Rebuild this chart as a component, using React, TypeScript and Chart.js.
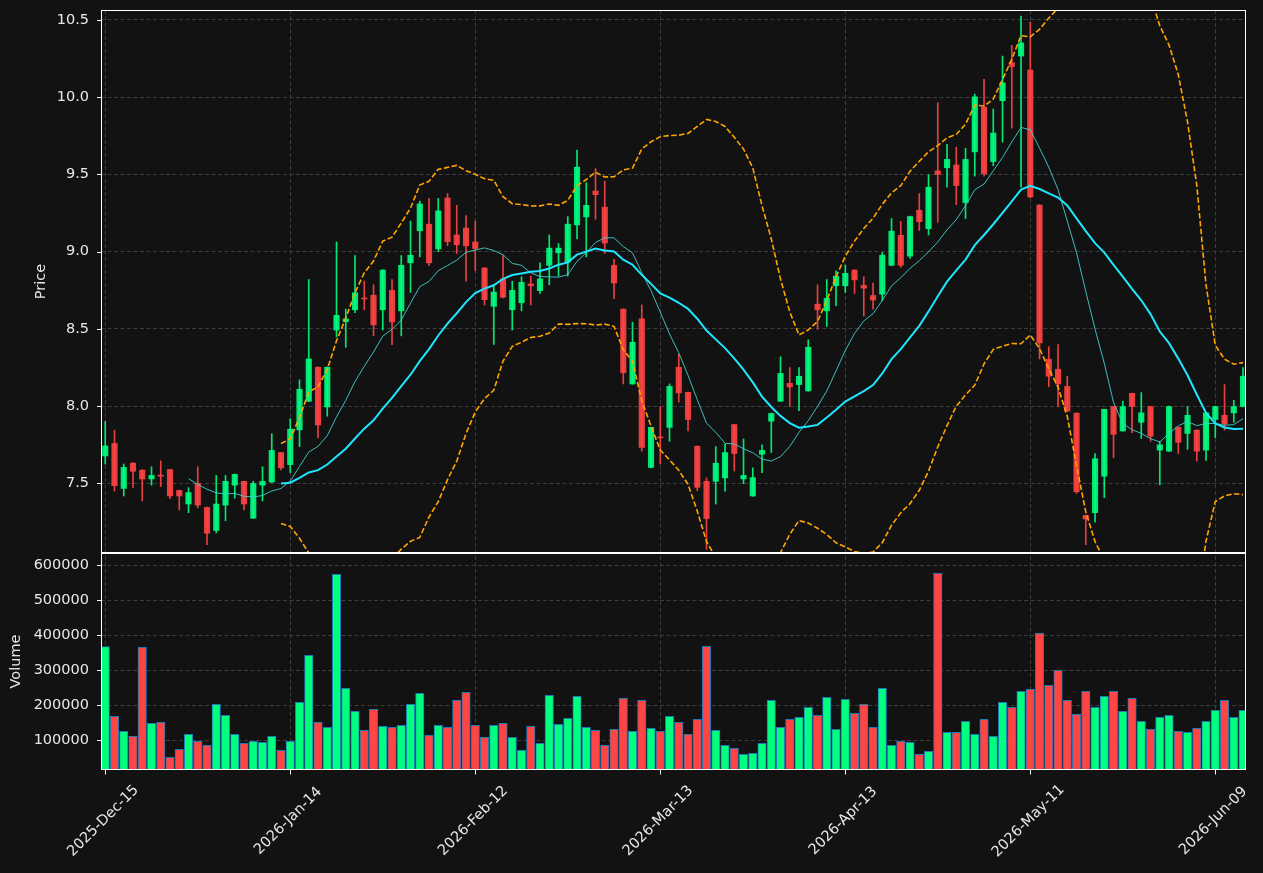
import React, { useEffect, useRef } from 'react';
import { Chart, registerables } from 'chart.js';

Chart.register(...registerables);

// ---------------- data ----------------
const tickIndices = [0, 20, 40, 60, 80, 100, 120];
const tickLabels = ['2025-Dec-15', '2026-Jan-14', '2026-Feb-12', '2026-Mar-13', '2026-Apr-13', '2026-May-11', '2026-Jun-09'];

const openP = [
  7.678, 7.759, 7.468, 7.631, 7.586, 7.529, 7.554, 7.590, 7.455, 7.367,
  7.500, 7.345, 7.196, 7.360, 7.489, 7.514, 7.275, 7.489, 7.509, 7.700,
  7.622, 7.847, 8.032, 8.252, 7.995, 8.493, 8.547, 8.624, 8.698, 8.718,
  8.624, 8.750, 8.617, 8.928, 9.135, 9.178, 9.018, 9.347, 9.108, 9.153,
  9.063, 8.894, 8.646, 8.824, 8.624, 8.669, 8.791, 8.748, 8.912, 8.993,
  8.932, 9.173, 9.225, 9.392, 9.288, 8.912, 8.628, 8.144, 8.565, 7.604,
  7.800, 7.863, 8.252, 8.090, 7.741, 7.514, 7.514, 7.536, 7.881, 7.529,
  7.419, 7.689, 7.903, 8.032, 8.148, 8.140, 8.099, 8.660, 8.617, 8.779,
  8.779, 8.881, 8.782, 8.716, 8.725, 8.912, 9.106, 8.971, 9.268, 9.149,
  9.523, 9.543, 9.561, 9.318, 9.646, 9.935, 9.583, 9.977, 10.223, 10.266,
  10.176, 9.302, 8.304, 8.239, 8.128, 7.955, 7.293, 7.311, 7.547, 7.998,
  7.840, 8.083, 7.896, 7.998, 7.716, 7.709, 7.863, 7.824, 7.845, 7.716,
  7.914, 7.941, 7.957, 7.998,
];
const highP = [
  7.901, 7.845, 7.626, 7.635, 7.590, 7.608, 7.646, 7.592, 7.457, 7.473,
  7.608, 7.347, 7.552, 7.552, 7.561, 7.516, 7.514, 7.608, 7.822, 7.702,
  7.919, 8.171, 8.820, 8.254, 8.254, 9.063, 8.628, 8.975, 8.809, 8.786,
  8.883, 8.820, 8.975, 9.198, 9.327, 9.345, 9.345, 9.376, 9.300, 9.234,
  9.198, 8.898, 8.786, 8.975, 8.809, 8.838, 8.842, 8.928, 9.108, 9.052,
  9.227, 9.658, 9.446, 9.538, 9.457, 8.950, 8.630, 8.543, 8.655, 7.865,
  7.998, 8.144, 8.336, 8.092, 7.743, 7.536, 7.739, 7.755, 7.883, 7.788,
  7.601, 7.750, 7.955, 8.320, 8.250, 8.250, 8.430, 8.786, 8.820, 8.876,
  8.914, 8.883, 8.838, 8.797, 8.995, 9.214, 9.196, 9.230, 9.376, 9.498,
  9.964, 9.694, 9.676, 9.669, 10.020, 10.115, 9.923, 10.266, 10.336, 10.525,
  10.486, 9.304, 8.385, 8.399, 8.194, 7.957, 7.295, 7.694, 7.980, 8.000,
  8.032, 8.085, 8.088, 8.000, 7.773, 8.000, 7.865, 7.998, 7.847, 7.960,
  8.000, 8.140, 8.038, 8.250,
];
const lowP = [
  7.626, 7.450, 7.419, 7.473, 7.387, 7.489, 7.480, 7.401, 7.329, 7.311,
  7.342, 7.104, 7.180, 7.259, 7.405, 7.329, 7.273, 7.387, 7.507, 7.588,
  7.570, 7.739, 8.030, 7.795, 7.935, 8.448, 8.381, 8.606, 8.624, 8.455,
  8.493, 8.399, 8.455, 8.736, 8.966, 8.910, 9.000, 9.038, 8.989, 8.809,
  8.876, 8.655, 8.399, 8.700, 8.493, 8.617, 8.655, 8.730, 8.786, 8.842,
  8.842, 9.083, 8.966, 9.209, 8.989, 8.696, 8.144, 8.142, 7.709, 7.600,
  7.626, 7.773, 8.027, 7.840, 7.453, 7.074, 7.367, 7.450, 7.581, 7.498,
  7.417, 7.570, 7.700, 8.030, 7.998, 7.971, 8.097, 8.498, 8.516, 8.651,
  8.736, 8.730, 8.583, 8.628, 8.682, 8.908, 8.899, 8.957, 9.137, 9.108,
  9.191, 9.417, 9.304, 9.214, 9.489, 9.489, 9.556, 9.709, 9.800, 9.417,
  9.349, 8.306, 8.126, 7.998, 7.968, 7.435, 7.104, 7.250, 7.408, 7.667,
  7.838, 7.829, 7.791, 7.773, 7.491, 7.707, 7.694, 7.721, 7.644, 7.649,
  7.795, 7.845, 7.896, 7.996,
];
const closeP = [
  7.743, 7.486, 7.604, 7.579, 7.529, 7.552, 7.547, 7.419, 7.419, 7.441,
  7.360, 7.178, 7.367, 7.514, 7.559, 7.367, 7.500, 7.514, 7.714, 7.601,
  7.851, 8.110, 8.306, 7.878, 8.252, 8.588, 8.565, 8.734, 8.694, 8.527,
  8.881, 8.545, 8.912, 8.977, 9.309, 8.928, 9.264, 9.065, 9.045, 9.038,
  9.020, 8.689, 8.739, 8.705, 8.750, 8.802, 8.779, 8.824, 9.023, 9.023,
  9.178, 9.547, 9.300, 9.369, 9.056, 8.797, 8.216, 8.414, 7.734, 7.863,
  7.795, 8.128, 8.086, 7.914, 7.475, 7.273, 7.631, 7.700, 7.694, 7.552,
  7.538, 7.714, 7.953, 8.212, 8.124, 8.194, 8.381, 8.624, 8.698, 8.842,
  8.860, 8.818, 8.764, 8.687, 8.977, 9.133, 8.912, 9.227, 9.194, 9.417,
  9.500, 9.597, 9.428, 9.597, 10.002, 9.505, 9.768, 10.092, 10.198, 10.351,
  9.354, 8.410, 8.194, 8.144, 7.968, 7.446, 7.270, 7.660, 7.980, 7.818,
  7.998, 7.998, 7.957, 7.806, 7.750, 7.998, 7.766, 7.941, 7.709, 7.957,
  7.998, 7.885, 7.998, 8.194,
];
const volume = [
  367600, 168600, 125700, 111400, 365700, 148600, 151400, 51400, 74300, 117100,
  97100, 85700, 202900, 171400, 117100, 91400, 97100, 94300, 111400, 71400,
  97100, 208600, 342900, 151400, 137100, 574300, 248600, 182900, 128600, 188600,
  140000, 137100, 142900, 202900, 234300, 114300, 142900, 137100, 214300, 237100,
  142900, 108600, 142900, 148600, 108600, 71400, 140000, 91400, 228600, 145700,
  162900, 225700, 137100, 128600, 85700, 131400, 220000, 125700, 214300, 134300,
  125700, 168600, 151400, 117100, 160000, 368600, 128600, 85700, 77100, 60000,
  62900, 91400, 214300, 137100, 160000, 165700, 194300, 171400, 222900, 131400,
  217100, 177100, 202900, 137100, 248600, 85700, 97100, 94300, 60000, 68600,
  577100, 122900, 122900, 154300, 117100, 160000, 111400, 208600, 194300, 240000,
  245700, 405700, 257100, 300000, 214300, 174300, 240000, 194300, 225700, 240000,
  182900, 220000, 154300, 131400, 165700, 171400, 125700, 122900, 134300, 154300,
  185700, 214300, 165700, 185700,
];
const priceTicks = [7.5, 8.0, 8.5, 9.0, 9.5, 10.0, 10.5];
const volumeTicks = [100000, 200000, 300000, 400000, 500000, 600000];

// ---------------- styling ----------------
const BG = '#121212';
const TEXT = '#e8e8e8';
const GRID = '#3c3c3c';
const FONT = 'DejaVu Sans';
const UP_CANDLE = 'rgba(0,255,127,0.9)';
const DOWN_CANDLE = 'rgba(255,68,68,0.9)';
const UP_VOL = '#00ff7f';
const DOWN_VOL = '#ff4444';

function sma(vals: number[], n: number): (number | null)[] {
  return vals.map((_, i) => {
    if (i < n - 1) return null;
    let s = 0;
    for (let k = i - n + 1; k <= i; k++) s += vals[k];
    return s / n;
  });
}
function rollingStd(vals: number[], n: number): (number | null)[] {
  return vals.map((_, i) => {
    if (i < n - 1) return null;
    let s = 0;
    for (let k = i - n + 1; k <= i; k++) s += vals[k];
    const m = s / n;
    let q = 0;
    for (let k = i - n + 1; k <= i; k++) q += (vals[k] - m) * (vals[k] - m);
    return Math.sqrt(q / (n - 1));
  });
}
function toPoints(arr: (number | null)[]) {
  const out: { x: number; y: number }[] = [];
  arr.forEach((v, i) => {
    if (v !== null) out.push({ x: i, y: v });
  });
  return out;
}

const panelPlugin = {
  id: 'panelPlugin',
  beforeDatasetDraw(chart: any, args: any) {
    const ctx = chart.ctx;
    const ys = chart.scales[args.meta.yAxisID];
    const ca = chart.chartArea;
    ctx.save();
    ctx.beginPath();
    ctx.rect(ca.left, ys.top, ca.right - ca.left, ys.bottom - ys.top);
    ctx.clip();
  },
  afterDatasetDraw(chart: any) {
    chart.ctx.restore();
  },
  afterDraw(chart: any) {
    const ctx = chart.ctx;
    const ca = chart.chartArea;
    const yp = chart.scales.yPrice;
    const yv = chart.scales.yVol;
    const xs = chart.scales.x;
    ctx.save();
    ctx.strokeStyle = '#ffffff';
    ctx.lineWidth = 1;
    const L = Math.round(ca.left) + 0.5;
    const R = Math.round(ca.right) - 0.5;
    for (const s of [yp, yv]) {
      const T = Math.round(s.top) + 0.5;
      const B = Math.round(s.bottom) - 0.5;
      ctx.strokeRect(L, T, R - L, B - T);
    }
    // y tick marks
    ctx.beginPath();
    for (const s of [yp, yv]) {
      for (const t of s.ticks) {
        const y = Math.round(s.getPixelForValue(t.value)) + 0.5;
        ctx.moveTo(L - 4.5, y);
        ctx.lineTo(L, y);
      }
    }
    // x tick marks
    for (const v of tickIndices) {
      const x = Math.round(xs.getPixelForValue(v)) + 0.5;
      ctx.moveTo(x, ca.bottom);
      ctx.lineTo(x, ca.bottom + 4.5);
    }
    ctx.stroke();
    // x labels rotated 45 deg, centred under the tick
    ctx.fillStyle = TEXT;
    ctx.font = `14.5px "${FONT}"`;
    ctx.textAlign = 'center';
    ctx.textBaseline = 'middle';
    tickIndices.forEach((v, i) => {
      const x = xs.getPixelForValue(v) - 2;
      ctx.save();
      ctx.translate(x, ca.bottom + 51);
      ctx.rotate(-Math.PI / 4);
      ctx.fillText(tickLabels[i], 0, 0);
      ctx.restore();
    });
    ctx.restore();
  },
};

function zeroPad(a: any) {
  a.paddingTop = 0;
  a.paddingBottom = 0;
  a.paddingLeft = 0;
  a.paddingRight = 0;
}

export default function App() {
  const ref = useRef<HTMLCanvasElement | null>(null);

  useEffect(() => {
    document.body.style.margin = '0';
    document.body.style.background = BG;
    const canvas = ref.current;
    if (!canvas) return;

    const idx = closeP.map((_, i) => i);
    const up = idx.map((i) => closeP[i] >= openP[i]);
    const ma10 = sma(closeP, 10);
    const ma20 = sma(closeP, 20);
    const sd20 = rollingStd(closeP, 20);
    const bbUp = ma20.map((m, i) => (m === null ? null : m + 2 * (sd20[i] as number)));
    const bbLo = ma20.map((m, i) => (m === null ? null : m - 2 * (sd20[i] as number)));

    const chart = new Chart(canvas, {
      type: 'bar',
      data: {
        datasets: [
          {
            type: 'line',
            label: 'BB upper',
            yAxisID: 'yPrice',
            data: toPoints(bbUp),
            borderColor: '#ffa500',
            borderWidth: 1.6,
            borderDash: [5.5, 2.4],
            pointRadius: 0,
            order: 0,
          } as any,
          {
            type: 'line',
            label: 'BB lower',
            yAxisID: 'yPrice',
            data: toPoints(bbLo),
            borderColor: '#ffa500',
            borderWidth: 1.6,
            borderDash: [5.5, 2.4],
            pointRadius: 0,
            order: 1,
          } as any,
          {
            type: 'line',
            label: 'MA20',
            yAxisID: 'yPrice',
            data: toPoints(ma20),
            borderColor: '#1ee6ff',
            borderWidth: 2,
            pointRadius: 0,
            order: 2,
          } as any,
          {
            type: 'line',
            label: 'MA10',
            yAxisID: 'yPrice',
            data: toPoints(ma10),
            borderColor: 'rgba(64,210,205,0.9)',
            borderWidth: 1,
            pointRadius: 0,
            order: 3,
          } as any,
          {
            type: 'bar',
            label: 'bodies',
            yAxisID: 'yPrice',
            data: idx.map((i) => ({ x: i, y: [openP[i], closeP[i]] })),
            backgroundColor: idx.map((i) => (up[i] ? UP_CANDLE : DOWN_CANDLE)),
            barThickness: 5.5,
            minBarLength: 1,
            grouped: false,
            order: 4,
          } as any,
          {
            type: 'bar',
            label: 'wicks',
            yAxisID: 'yPrice',
            data: idx.map((i) => ({ x: i, y: [lowP[i], highP[i]] })),
            backgroundColor: idx.map((i) => (up[i] ? UP_CANDLE : DOWN_CANDLE)),
            barThickness: 1,
            grouped: false,
            order: 5,
          } as any,
          {
            type: 'bar',
            label: 'Volume',
            yAxisID: 'yVol',
            data: idx.map((i) => ({ x: i, y: volume[i] })),
            backgroundColor: idx.map((i) => (up[i] ? UP_VOL : DOWN_VOL)),
            borderColor: '#1f77b4',
            borderWidth: 1,
            barThickness: 8.5,
            grouped: false,
            order: 6,
          } as any,
        ],
      },
      options: {
        responsive: false,
        animation: false,
        events: [],
        layout: { padding: { left: 0, right: 17, top: 10, bottom: 0 } },
        plugins: { legend: { display: false }, tooltip: { enabled: false } },
        scales: {
          x: {
            type: 'linear',
            offset: false,
            min: -0.46,
            max: 123.32,
            afterBuildTicks: (a: any) => {
              a.ticks = tickIndices.map((v) => ({ value: v }));
            },
            afterFit: (a: any) => {
              a.height = 103;
              zeroPad(a);
            },
            ticks: { display: false },
            grid: { color: GRID, lineWidth: 1, drawTicks: false, offset: false },
            border: { display: false, dash: [4, 2.5] },
          },
          yPrice: {
            type: 'linear',
            position: 'left',
            stack: 'panels',
            stackWeight: 543,
            weight: 2,
            min: 7.05,
            max: 10.564,
            afterBuildTicks: (a: any) => {
              a.ticks = priceTicks.map((v) => ({ value: v }));
            },
            afterFit: (a: any) => {
              a.width = 101;
              zeroPad(a);
            },
            ticks: {
              color: TEXT,
              font: { family: FONT, size: 14.5 },
              padding: 12,
              callback: (v: any) => Number(v).toFixed(1),
            },
            grid: { color: GRID, lineWidth: 1, drawTicks: false },
            border: { display: false, dash: [4, 2.5] },
            title: {
              display: true,
              text: 'Price',
              color: TEXT,
              font: { family: FONT, size: 14.5 },
              padding: { top: 33, bottom: 0 },
            },
          },
          yVol: {
            type: 'linear',
            position: 'left',
            stack: 'panels',
            stackWeight: 217,
            weight: 1,
            min: 15100,
            max: 635000,
            afterBuildTicks: (a: any) => {
              a.ticks = volumeTicks.map((v) => ({ value: v }));
            },
            afterFit: (a: any) => {
              a.width = 101;
              zeroPad(a);
            },
            ticks: {
              color: TEXT,
              font: { family: FONT, size: 14.5 },
              padding: 12,
              callback: (v: any) => String(Math.round(Number(v))),
            },
            grid: { color: GRID, lineWidth: 1, drawTicks: false },
            border: { display: false, dash: [4, 2.5] },
            title: {
              display: true,
              text: 'Volume',
              color: TEXT,
              font: { family: FONT, size: 14.5 },
              padding: { top: 8, bottom: 0 },
            },
          },
        },
      } as any,
      plugins: [panelPlugin],
    });

    return () => {
      chart.destroy();
    };
  }, []);

  return (
    <div style={{ width: 1263, height: 873, background: BG }}>
      <canvas ref={ref} width={1263} height={873} style={{ display: 'block', width: 1263, height: 873 }} />
    </div>
  );
}
